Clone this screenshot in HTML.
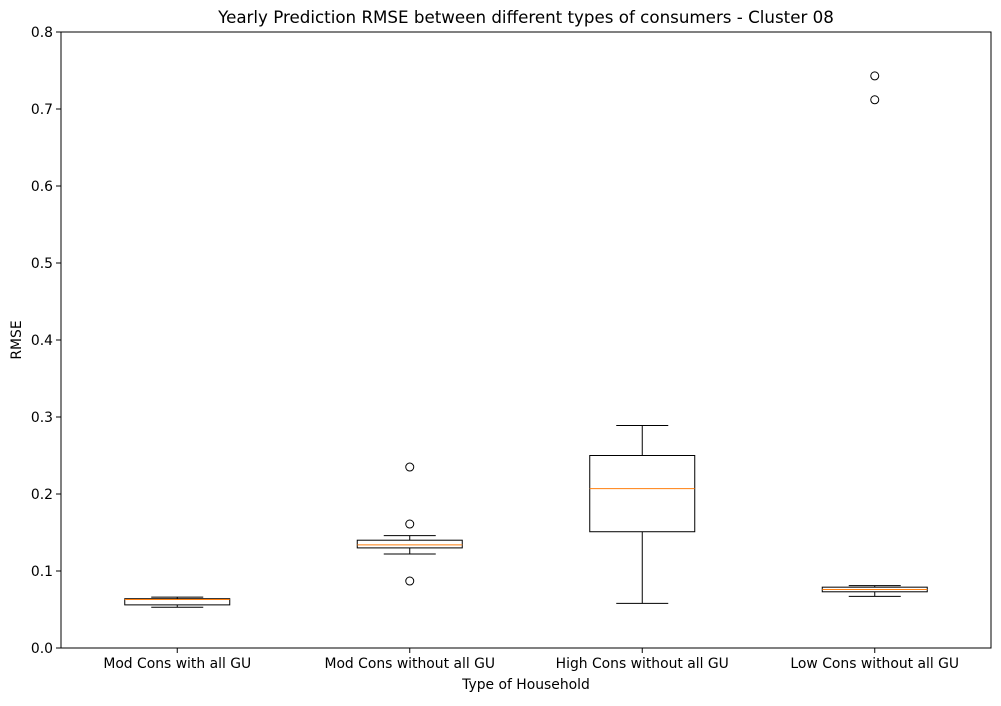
<!DOCTYPE html>
<html><head><meta charset="utf-8"><style>
body{margin:0;background:#fff;font-family:"Liberation Sans","DejaVu Sans",sans-serif;}
svg text{font-family:"DejaVu Sans","Liberation Sans",sans-serif;}
</style></head><body>
<svg width="1001" height="701" xmlns="http://www.w3.org/2000/svg" id="chart">
<rect width="1001" height="701" fill="#fff"/>
<text x="526" y="23" text-anchor="middle" font-size="16.7">Yearly Prediction RMSE between different types of consumers - Cluster 08</text>
<text x="526" y="689" text-anchor="middle" font-size="13.9">Type of Household</text>
<text transform="translate(21,340) rotate(-90)" text-anchor="middle" font-size="13.9">RMSE</text>
<g id="marks"></g>
<rect x="61" y="32" width="930" height="616" fill="none" stroke="#000" stroke-width="1"/>
</svg>
<script>
const categories=["Mod Cons with all GU","Mod Cons without all GU","High Cons without all GU","Low Cons without all GU"];
const whiskerLow=[0.053,0.122,0.058,0.067];
const q1=[0.056,0.130,0.151,0.073];
const medians=[0.063,0.134,0.207,0.076];
const q3=[0.064,0.140,0.250,0.079];
const whiskerHigh=[0.066,0.146,0.289,0.081];
const outliers=[[],[0.235,0.161,0.087],[],[0.743,0.712]];
const yTicks=[0,0.1,0.2,0.3,0.4,0.5,0.6,0.7,0.8];
const NS="http://www.w3.org/2000/svg";
const g=document.getElementById('marks');
const y=v=>648-v/0.8*616;
const x=i=>61+930*(i+0.5)/4;
const bw=105;
function mk(t,a){const e=document.createElementNS(NS,t);for(const k in a)e.setAttribute(k,a[k]);g.appendChild(e);return e;}
yTicks.forEach(t=>{
 const l=mk('line',{x1:56,x2:61,y1:y(t),y2:y(t),stroke:'#000'});
 
 
 const tx=mk('text',{x:53,y:y(t)+5,'text-anchor':'end','font-size':13.9});
 tx.textContent=t.toFixed(1);
 
 
});
categories.forEach((c,i)=>{
 const cx=x(i);
 const l=mk('line',{x1:cx,x2:cx,y1:648,y2:653,stroke:'#000'});
 
 
 const tx=mk('text',{x:cx,y:668,'text-anchor':'middle','font-size':13.9});
 tx.textContent=c;
 
 
 const w1=mk('line',{x1:cx,x2:cx,y1:y(whiskerLow[i]),y2:y(q1[i]),stroke:'#000'});
 
 
 const w2=mk('line',{x1:cx,x2:cx,y1:y(q3[i]),y2:y(whiskerHigh[i]),stroke:'#000'});
 
 
 [whiskerLow[i],whiskerHigh[i]].forEach(v=>{
  const cap=mk('line',{x1:cx-26,x2:cx+26,y1:y(v),y2:y(v),stroke:'#000'});
  
  
 });
 const b=mk('rect',{x:cx-bw/2,y:y(q3[i]),width:bw,height:y(q1[i])-y(q3[i]),fill:'none',stroke:'#000'});
 
 
 const m=mk('line',{x1:cx-bw/2,x2:cx+bw/2,y1:y(medians[i]),y2:y(medians[i]),stroke:'#ff7f0e'});
 
 
 outliers[i].forEach(v=>{
  const o=mk('circle',{cx:cx,cy:y(v),r:4,fill:'none',stroke:'#000'});
  
  
 });
});
</script>
</body></html>
